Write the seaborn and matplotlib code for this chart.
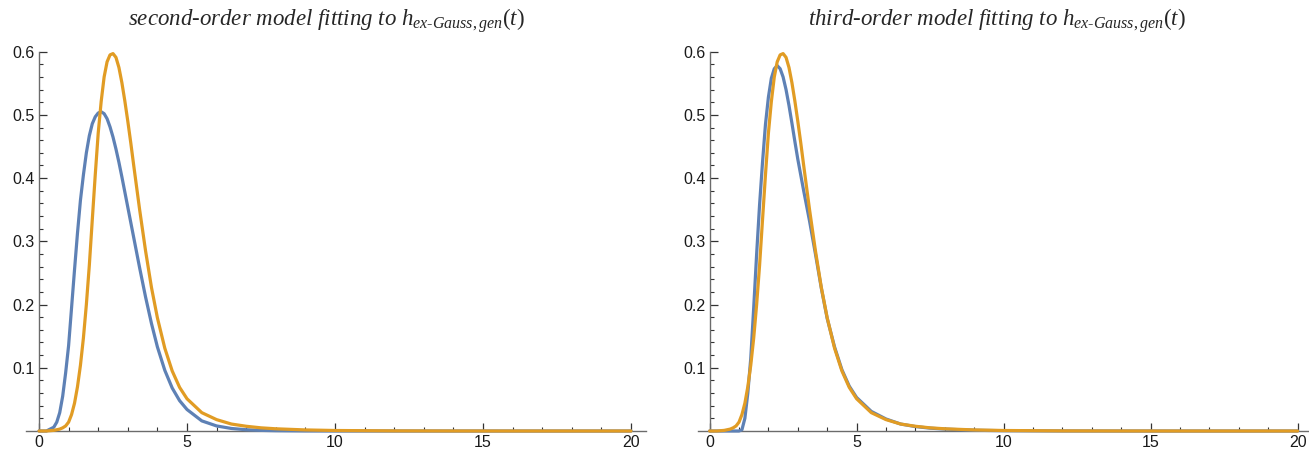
import matplotlib
matplotlib.use("Agg")
import matplotlib.pyplot as plt
import numpy as np
import pandas as pd
import seaborn as sns
from matplotlib.ticker import MultipleLocator, FixedLocator

# ---------------- data ----------------
t = [0, 0.25, 0.5, 0.6, 0.7, 0.8, 0.9, 1.0, 1.1, 1.2, 1.3, 1.4, 1.5, 1.6, 1.7,
     1.8, 1.9, 2.0, 2.1, 2.2, 2.3, 2.4, 2.5, 2.6, 2.7, 2.8, 2.9, 3.0, 3.1, 3.2,
     3.4, 3.6, 3.8, 4.0, 4.25, 4.5, 4.75, 5.0, 5.5, 6.0, 6.5, 7.0, 7.5, 8.0,
     9.0, 10.0, 12.0, 14.0, 16.0, 18.0, 20.0]

ex_gauss = [0, 0, 0.001, 0.002, 0.003, 0.005, 0.008, 0.014, 0.026, 0.044,
            0.07, 0.104, 0.147, 0.2, 0.262, 0.334, 0.405, 0.471, 0.521, 0.56,
            0.584, 0.595, 0.597, 0.591, 0.575, 0.551, 0.522, 0.49, 0.456, 0.42,
            0.35, 0.285, 0.227, 0.179, 0.131, 0.095, 0.069, 0.051, 0.029, 0.018,
            0.011, 0.0075, 0.005, 0.0035, 0.0017, 0.0008, 0.0002, 0.00005, 0, 0, 0]

second_order = [0, 0, 0.006, 0.014, 0.029, 0.055, 0.092, 0.135, 0.195, 0.255,
                0.313, 0.365, 0.405, 0.44, 0.467, 0.486, 0.497, 0.503, 0.505,
                0.502, 0.494, 0.481, 0.465, 0.446, 0.425, 0.402, 0.378, 0.354,
                0.33, 0.306, 0.258, 0.212, 0.17, 0.133, 0.096, 0.068, 0.048,
                0.034, 0.016, 0.008, 0.004, 0.002, 0.001, 0.0005, 0.0001, 0,
                0, 0, 0, 0, 0]

third_order = [0, 0, 0, 0, 0, 0, 0, 0, 0.002, 0.02, 0.06, 0.115, 0.195, 0.28,
               0.358, 0.425, 0.485, 0.528, 0.558, 0.573, 0.578, 0.573, 0.56, 0.54,
               0.515, 0.487, 0.458, 0.43, 0.405, 0.38, 0.332, 0.28, 0.226,
               0.178, 0.133, 0.097, 0.071, 0.053, 0.031, 0.019, 0.011, 0.007,
               0.0045, 0.003, 0.0012, 0.0005, 0.0001, 0, 0, 0, 0]

titles = ["second-order model fitting to ", "third-order model fitting to "]
x_ticks = [0, 5, 10, 15, 20]
y_ticks = [0.1, 0.2, 0.3, 0.4, 0.5, 0.6]

BLUE = "#5E81B5"
ORANGE = "#E19C24"

# ---------------- style ----------------
sns.set_theme(style="white")
plt.rcParams["font.family"] = ["Liberation Sans", "DejaVu Sans"]
plt.rcParams["mathtext.fontset"] = "custom"
plt.rcParams["mathtext.rm"] = "Liberation Serif"
plt.rcParams["mathtext.it"] = "Liberation Serif:italic"
plt.rcParams["mathtext.bf"] = "Liberation Serif:bold"

W, H = 1309, 453
fig = plt.figure(figsize=(W / 100, H / 100), dpi=100)

Y0_PX, Y6_PX = 431.0, 51.7
PX_UNIT_Y = (Y0_PX - Y6_PX) / 0.6


def make_axes(x_left_px, x_right_px, zero_px, px_unit_x):
    top_px, bot_px = 46.0, 437.0
    ax = fig.add_axes([x_left_px / W, (H - bot_px) / H,
                       (x_right_px - x_left_px) / W, (bot_px - top_px) / H])
    xmin = (x_left_px - zero_px) / px_unit_x
    xmax = (x_right_px - zero_px) / px_unit_x
    ymin = -(bot_px - Y0_PX) / PX_UNIT_Y
    ymax = (Y0_PX - top_px) / PX_UNIT_Y
    ax.set_xlim(xmin, xmax)
    ax.set_ylim(ymin, ymax)
    return ax


panels = [
    (make_axes(26, 646, 39.0, 29.6), second_order, titles[0], 326),
    (make_axes(698, 1309, 709.6, 29.4), third_order, titles[1], 997),
]

for ax, model, ttl, tx in panels:
    df = pd.DataFrame({"t": t, "model": model, "ref": ex_gauss})
    sns.lineplot(data=df, x="t", y="model", ax=ax, color=BLUE, lw=2.3,
                 clip_on=False, zorder=3)
    sns.lineplot(data=df, x="t", y="ref", ax=ax, color=ORANGE, lw=2.3,
                 clip_on=False, zorder=4)
    ax.set_xlabel("")
    ax.set_ylabel("")
    ax.set_facecolor("none")
    ax.grid(False)

    for s in ("top", "right"):
        ax.spines[s].set_visible(False)
    ax.spines["left"].set_position(("data", 0))
    ax.spines["bottom"].set_position(("data", 0))
    ax.spines["left"].set_bounds(0, 0.6)
    for s in ("left", "bottom"):
        ax.spines[s].set_color("#6b6b6b")
        ax.spines[s].set_linewidth(1.0)
        ax.spines[s].set_zorder(2)

    ax.xaxis.set_major_locator(FixedLocator(x_ticks))
    ax.xaxis.set_minor_locator(MultipleLocator(1))
    ax.yaxis.set_major_locator(FixedLocator(y_ticks))
    ax.yaxis.set_minor_locator(MultipleLocator(0.02))
    ax.set_xticklabels([str(v) for v in x_ticks])
    ax.set_yticklabels([f"{v:.1f}" for v in y_ticks])

    ax.tick_params(axis="both", which="major", direction="in", length=5.5,
                   width=0.9, color="#333333", labelsize=11.5,
                   labelcolor="#1a1a1a")
    ax.tick_params(axis="both", which="minor", direction="in", length=3.2,
                   width=0.8, color="#333333")
    ax.tick_params(axis="x", which="major", pad=3)
    ax.tick_params(axis="y", which="major", pad=3)
    ax.yaxis.set_ticks_position("left")
    ax.xaxis.set_ticks_position("bottom")

    fig.text(tx / W, 1 - 21 / H,
             ttl + r"$h_{ex\text{-}Gauss,gen}(t)$",
             ha="center", va="center", fontsize=16.5, style="italic",
             family="Liberation Serif")

fig.savefig("out.png", dpi=100)
